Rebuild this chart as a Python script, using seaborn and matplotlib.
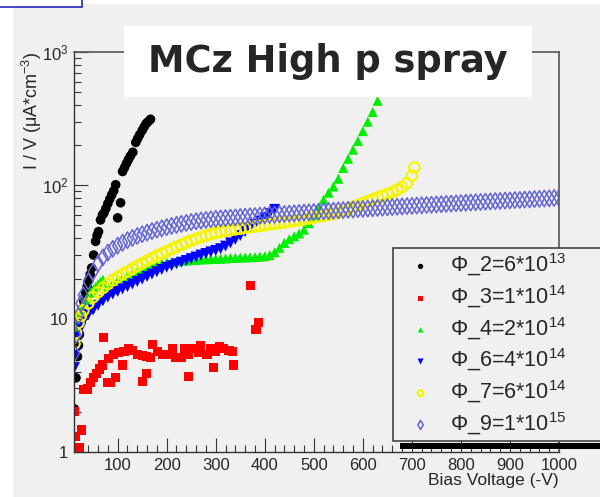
import matplotlib
matplotlib.use("Agg")
import matplotlib.pyplot as plt
import matplotlib.font_manager as fm
from matplotlib.patches import Rectangle
from matplotlib.ticker import MultipleLocator, LogLocator, NullFormatter, FixedLocator, FixedFormatter
import seaborn as sns

# ---------------- data ----------------
labels = ["Φ_2=6*10$^{13}$", "Φ_3=1*10$^{14}$", "Φ_4=2*10$^{14}$",
          "Φ_6=4*10$^{14}$", "Φ_7=6*10$^{14}$", "Φ_9=1*10$^{15}$"]

phi2_v = [12, 15, 18, 20, 22, 24, 27, 31, 35, 38, 41, 44, 47, 51, 55, 58, 61, 65, 69, 72,
          76, 80, 84, 88, 92, 96, 100, 106, 110, 114, 118, 122, 126, 131, 137, 141, 145, 150,
          154, 158, 162, 167]
phi2_i = [2.1, 3.6, 5.2, 6.3, 7.6, 10, 11.8, 13.5, 15.6, 17.5, 19.5, 21.5, 24, 30, 38, 42, 45,
          55, 60, 62, 67, 73, 79, 85, 91, 101, 57, 74, 127, 136, 146, 156, 166, 177, 210, 225,
          240, 258, 274, 290, 300, 313]

phi3_v = [12, 14, 22, 27, 30, 38, 45, 51, 57, 63, 69, 71, 79, 82, 86, 92, 96, 102, 110, 113,
          122, 130, 140, 151, 151, 159, 159, 167, 171, 181, 192, 202, 212, 218, 229, 237, 245,
          245, 255, 265, 269, 282, 290, 296, 300, 308, 316, 327, 335, 337, 371, 382, 388]
phi3_i = [2.0, 1.3, 1.07, 1.46, 2.93, 2.97, 3.3, 3.6, 3.9, 4.2, 4.5, 7.2, 3.3, 5.0, 3.3, 5.35,
          3.6, 5.55, 4.5, 5.65, 6.0, 5.8, 5.35, 3.4, 5.3, 3.9, 5.2, 5.1, 6.4, 5.65, 5.35, 5.35,
          5.95, 5.1, 5.1, 6.0, 3.7, 5.35, 5.95, 5.55, 6.25, 5.35, 6.0, 4.3, 5.65, 6.15, 6.0,
          5.8, 5.65, 4.5, 17.7, 8.3, 9.3]

phi4_v = [12, 15, 20, 25, 30, 35, 40, 45, 50, 55, 60, 65, 70,
          80, 90, 100, 110, 120, 130, 140, 150, 160, 170,
          180, 190, 200, 210, 220, 230, 240, 250, 260, 270,
          280, 290, 300, 310, 320, 330, 340, 350, 360, 370,
          380, 390, 400, 410, 420, 430, 440, 450, 460, 470,
          480, 490, 500, 510, 520, 530, 540, 550, 560, 570,
          580, 590, 600, 610, 620, 630, 640]
phi4_i = [8.5, 9.5, 10.8, 11.8, 12.8, 13.8, 14.8, 15.7, 16.5, 17.3, 18.1, 18.9, 19.6,
          17.5, 18.4, 19.3, 20.1, 20.9, 21.7, 22.5, 23.2, 24.0, 24.7,
          25.3, 25.8, 26.2, 26.6, 26.9, 27.1, 27.3, 27.5, 27.6, 27.8,
          27.9, 28.0, 28.1, 28.2, 28.3, 28.5, 28.6, 28.7, 28.8, 28.9,
          29.0, 29.2, 29.4, 30.0, 31.5, 34.0, 37.0, 39.5, 41.5, 43.5,
          46.5, 52, 59, 68, 78, 88, 98, 112, 135, 158,
          185, 215, 255, 300, 355, 430, 520]

phi6_v = [12, 15, 20, 25, 30,
          40, 50, 60, 70, 80, 90, 100, 110, 120, 130,
          140, 150, 160, 170, 180, 190, 200, 210, 220, 230,
          240, 250, 260, 270, 280, 290, 300, 310, 320, 330,
          340, 350, 360, 370, 380, 390, 400, 410, 420]
phi6_i = [4.3, 5.6, 7.3, 8.5, 9.5,
          10.7, 11.6, 12.6, 13.6, 14.5, 15.3, 16.0, 16.7, 17.4, 18.2,
          19.0, 19.8, 20.7, 21.6, 22.5, 23.4, 24.3, 25.0, 25.8, 26.5,
          27.3, 28.2, 29.0, 30.0, 30.8, 31.7, 32.5, 33.5, 35.0, 37.0,
          39.3, 42.0, 45.0, 48.0, 51.0, 54.0, 57.5, 61.5, 66.0]

phi7_v = [12, 15, 20, 25, 30,
          40, 50, 60, 70, 80, 90, 100, 110, 120, 130,
          140, 150, 160, 170, 180, 190, 200, 210, 220, 230,
          240, 250, 260, 270, 280, 290, 300, 310, 320, 330,
          340, 350, 360, 370, 380, 390, 400, 410, 420, 430,
          440, 450, 460, 470, 480, 490, 500, 510, 520, 530,
          540, 550, 560, 570, 580, 590, 600, 610, 620, 630,
          640, 650, 660, 670, 680, 690, 700, 705]
phi7_i = [6.5, 7.8, 9.3, 10.5, 11.5,
          13.0, 14.5, 15.8, 17.0, 18.2, 19.4, 20.5, 21.6, 22.6, 23.7,
          24.8, 26.0, 27.2, 28.4, 29.6, 30.8, 32.0, 33.3, 34.6, 35.9,
          37.2, 38.5, 39.7, 40.9, 42.0, 43.0, 44.0, 44.8, 45.5, 46.1,
          46.7, 47.3, 47.9, 48.5, 49.1, 49.7, 50.3, 50.9, 51.5, 52.1,
          52.7, 53.4, 54.1, 54.8, 55.6, 56.4, 57.3, 58.2, 59.2, 60.2,
          61.2, 62.3, 64.0, 66.0, 68.5, 71.0, 73.5, 76.0, 78.5, 81.0,
          83.5, 86.0, 89.0, 92.5, 97.0, 104, 118, 136]

phi9_v = [12, 15, 20, 25, 30,
          40, 50, 60, 70, 80, 90, 100, 110, 120, 130,
          140, 150, 160, 170, 180, 190, 200, 210, 220, 230,
          240, 250, 260, 270, 280, 290,
          300, 310, 320, 330, 340, 350, 360, 370, 380, 390,
          400, 410, 420, 430, 440, 450, 460, 470, 480, 490,
          500, 510, 520, 530, 540, 550, 560, 570, 580, 590,
          600, 610, 620, 630, 640, 650, 660, 670, 680, 690,
          700, 710, 720, 730, 740, 750, 760, 770, 780, 790,
          800, 810, 820, 830, 840, 850, 860, 870, 880, 890,
          900, 910, 920, 930, 940, 950, 960, 970, 980, 990, 1000]
phi9_i = [5.5, 7.5, 10.5, 13.0, 15.0,
          19.0, 22.5, 26.0, 28.8, 31.3, 33.4, 35.3, 37.1, 38.8, 40.3,
          41.7, 43.0, 44.2, 45.4, 46.5, 47.6, 48.6, 49.6, 50.5, 51.4,
          52.3, 53.1, 53.8, 54.5, 55.1, 55.6,
          56.1, 56.5, 56.8, 57.2, 57.5, 57.9, 58.2, 58.6, 58.9, 59.3,
          59.6, 60.0, 60.3, 60.7, 61.0, 61.4, 61.7, 62.1, 62.4, 62.8,
          63.1, 63.5, 63.8, 64.2, 64.5, 64.9, 65.2, 65.6, 65.9, 66.3,
          66.6, 67.0, 67.3, 67.7, 68.0, 68.4, 68.7, 69.1, 69.4, 69.8,
          70.1, 70.5, 70.8, 71.2, 71.5, 71.9, 72.2, 72.6, 72.9, 73.3,
          73.6, 74.0, 74.3, 74.7, 75.0, 75.4, 75.7, 76.1, 76.4, 76.8,
          77.1, 77.5, 77.8, 78.2, 78.5, 78.9, 79.2, 79.6, 79.9, 80.3, 80.6]

x_ticks = [100, 200, 300, 400, 500, 600, 700, 800, 900, 1000]
y_ticks = [1, 10, 100, 1000]
y_ticklabels = ["1", "10", "10$^2$", "10$^3$"]

# ---------------- style ----------------
sns.set_style("ticks")
names = {f.name for f in fm.fontManager.ttflist}
FONT = "Liberation Sans Narrow" if "Liberation Sans Narrow" in names else "Liberation Sans"
plt.rcParams.update({
    "font.family": [FONT, "DejaVu Sans"],
    "mathtext.fontset": "custom",
    "mathtext.rm": FONT,
    "mathtext.it": FONT,
    "mathtext.bf": FONT,
})

BG = "#f0f0f0"
W, H = 600, 497
fig = plt.figure(figsize=(6, 4.97), dpi=100, facecolor="white")
fig.add_artist(Rectangle((13 / W, 0), 1, 1 - 4 / H, transform=fig.transFigure,
                         facecolor=BG, edgecolor="none", zorder=-10))
# fragment of a blue box at the top-left corner
fig.add_artist(Rectangle((-0.01, 1 - 7 / H), 82 / W + 0.01, 0.05, transform=fig.transFigure,
                         facecolor="white", edgecolor="#3535c8", lw=1.3, zorder=-5))

ax = fig.add_axes([74 / W, 45 / H, 485 / W, 400 / H])
ax.set_facecolor(BG)

series = [
    (phi2_v, phi2_i, dict(marker="o", s=48, color="black", edgecolor="none")),
    (phi3_v, phi3_i, dict(marker="s", s=44, color="#ff0000", edgecolor="none")),
    (phi4_v, phi4_i, dict(marker="^", s=52, color="#00ee00", edgecolor="none")),
    (phi6_v, phi6_i, dict(marker="v", s=62, color="#0000ff", edgecolor="none")),
    (phi7_v, phi7_i, dict(marker="o", s=58, facecolor="none", edgecolor="#f4f400", linewidth=1.5)),
    (phi9_v, phi9_i, dict(marker="d", s=70, facecolor="none", edgecolor="#6464d2", linewidth=1.1)),
]
for (xv, yv, kw), lab in zip(series, labels):
    sns.scatterplot(x=xv, y=yv, ax=ax, label=lab, **kw)

ax.set_yscale("log")
ax.set_xlim(11, 1000)
ax.set_ylim(1, 1000)
ax.xaxis.set_major_locator(FixedLocator(x_ticks))
ax.xaxis.set_minor_locator(MultipleLocator(20))
ax.yaxis.set_major_locator(FixedLocator(y_ticks))
ax.yaxis.set_major_formatter(FixedFormatter(y_ticklabels))
ax.yaxis.set_minor_locator(LogLocator(base=10, subs=range(2, 10)))
ax.yaxis.set_minor_formatter(NullFormatter())
ax.tick_params(which="both", direction="in", top=False, right=False, width=0.8, color="#333333")
ax.tick_params(which="major", length=10, labelsize=12, pad=4)
ax.tick_params(which="minor", length=5)
for s in ["left", "bottom"]:
    ax.spines[s].set_color("#333333")
    ax.spines[s].set_linewidth(1.0)
for s in ["top", "right"]:
    ax.spines[s].set_color("#555555")
    ax.spines[s].set_linewidth(1.2)
ax.set_xlabel("")
ax.set_ylabel("")

fig.text(32 / W, 1 - 52 / H, "I / V (μA*cm$^{-3}$)", rotation=90, ha="center", va="top",
         fontsize=13)
fig.text(559 / W, 1 - 481 / H, "Bias Voltage (-V)", ha="right", va="center", fontsize=12.5)

# legend
leg = ax.legend(loc="upper left", bbox_to_anchor=(393 / W, 1 - 248 / H, 0.5, 0),
                bbox_transform=fig.transFigure, mode="expand", borderaxespad=0,
                frameon=True, fancybox=False, edgecolor="#444444", facecolor=BG,
                framealpha=1, fontsize=15.5, markerscale=0.55, handletextpad=0.25,
                labelspacing=0.24, borderpad=0.18, handlelength=2.2)
leg.get_frame().set_linewidth(1.2)
leg.set_zorder(10)
fig.add_artist(Rectangle((400 / W, 1 - 449 / H), 0.4, 6 / H, transform=fig.transFigure,
                         facecolor="black", edgecolor="none", zorder=11))

# title box
fig.add_artist(Rectangle((124 / W, 1 - 97 / H), 408 / W, 71 / H, transform=fig.transFigure,
                         facecolor="white", edgecolor="none", zorder=20))
fig.text(328 / W, 1 - 61 / H, "MCz High p spray", ha="center", va="center", fontsize=26.5,
         fontweight="bold", family="DejaVu Sans", zorder=21)

fig.savefig("out.png", dpi=100, facecolor=fig.get_facecolor())
